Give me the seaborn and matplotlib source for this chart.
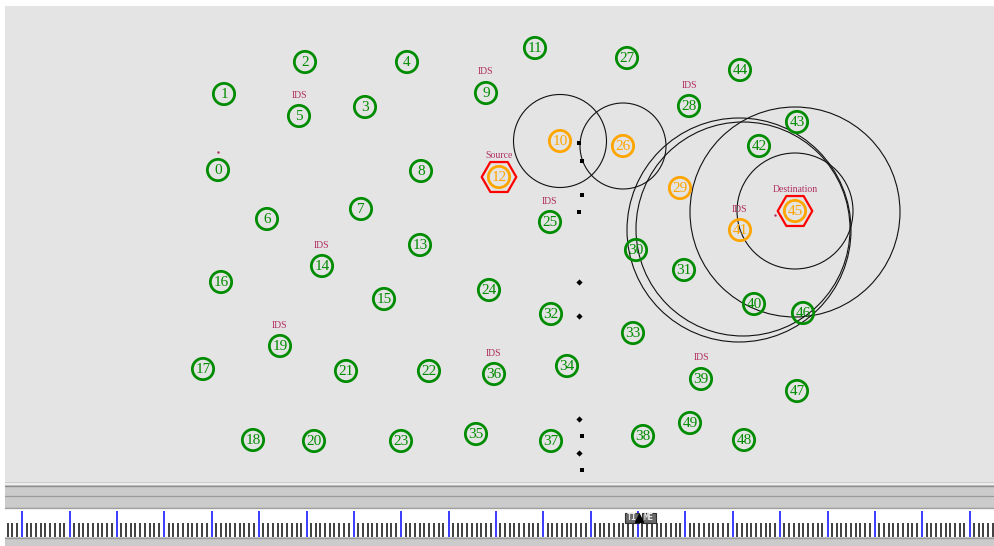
import numpy as np
import pandas as pd
import matplotlib.pyplot as plt
import seaborn as sns
from matplotlib.patches import Rectangle, Circle

# node positions (pixel coords, y down)
node_id = list(range(50))
node_x = [218, 224, 305, 365, 407, 299, 267, 361, 421, 486,
          560, 535, 499, 420, 322, 384, 221, 203, 253, 280,
          314, 346, 429, 401, 489, 550, 623, 627, 689, 680,
          636, 684, 551, 633, 567, 476, 494, 551, 643, 701,
          754, 740, 759, 797, 740, 795, 803, 797, 744, 690]
node_y = [170, 94, 62, 107, 62, 116, 219, 209, 171, 93,
          141, 48, 177, 245, 266, 299, 282, 369, 440, 346,
          441, 371, 371, 441, 290, 222, 146, 58, 106, 188,
          250, 270, 314, 333, 366, 434, 374, 441, 436, 379,
          304, 230, 146, 122, 70, 211, 313, 391, 440, 423]
active_nodes = [10, 26, 29, 41, 12, 45]
ids_nodes = [5, 9, 14, 19, 25, 28, 36, 39, 41]
source_node = 12
dest_node = 45

# transmission range circles
range_cx = [560, 623, 739, 743, 795, 795]
range_cy = [141, 146, 230, 229, 212, 211]
range_r = [46.5, 43, 112, 107, 105, 58]

# packets in flight
packet_x = [579, 582, 582, 579, 579, 579, 579, 582, 579, 582]
packet_y = [143, 161, 195, 212, 282, 316, 419, 436, 453, 470]
packet_kind = ["s", "s", "s", "s", "D", "D", "D", "s", "D", "s"]

green = "#008c00"
orange = "#ffa500"
maroon = "#b03060"

sns.set_style("white")
plt.rcParams["font.family"] = ["Liberation Serif", "DejaVu Serif"]

fig = plt.figure(figsize=(9.95, 5.46), dpi=100)
fig.patch.set_facecolor("white")
ax = fig.add_axes([0, 0, 1, 1])
ax.set_xlim(0, 995)
ax.set_ylim(546, 0)
ax.axis("off")

# canvas
ax.add_patch(Rectangle((5, 6), 990, 476, fc="#e4e4e4", ec="none", zorder=0))

# bottom control strip
ax.add_patch(Rectangle((5, 482), 990, 64, fc="#cbcbcb", ec="none", zorder=0))
ax.plot([5, 995], [483.5, 483.5], color="#f4f4f4", lw=1.2)
ax.plot([5, 995], [485.5, 485.5], color="#8c8c8c", lw=1.0)
ax.plot([5, 995], [496, 496], color="#9a9a9a", lw=0.9)
ax.plot([5, 995], [507.5, 507.5], color="#8c8c8c", lw=1.0)
ax.plot([5, 995], [509, 509], color="#f0f0f0", lw=1.0)
ax.add_patch(Rectangle((5, 510), 990, 27, fc="white", ec="none", zorder=1))
ax.plot([5, 995], [537.5, 537.5], color="#9a9a9a", lw=1.0, zorder=2)

major = np.arange(22.3, 995, 47.37)
minor = np.arange(7.6, 995, 4.737)
minor = minor[np.min(np.abs(minor[:, None] - major[None, :]), axis=1) > 1.5]
ax.vlines(minor, 522.5, 536.5, color="#303030", lw=1.3, zorder=2)
ax.vlines(major, 510.5, 536.5, color="#2b2bff", lw=1.3, zorder=3)

# time slider
for bx, lab in [(624.5, "TI"), (642, "ME")]:
    ax.add_patch(Rectangle((bx, 512.5), 14, 10.5, fc="#6a6a6a", ec="#303030", lw=0.8, zorder=4))
    ax.text(bx + 7, 518, lab, color="#e8e8e8", fontsize=6, fontweight="bold",
            family="DejaVu Sans Mono", ha="center", va="center", zorder=5)
ax.plot([638.5], [518], marker="^", color="black", ms=6, zorder=6)

# range circles
for cx, cy, r in zip(range_cx, range_cy, range_r):
    ax.add_patch(Circle((cx, cy), r, fill=False, ec="#111111", lw=0.8, zorder=2))

nodes = pd.DataFrame({"id": node_id, "x": node_x, "y": node_y})
nodes["state"] = np.where(nodes["id"].isin(active_nodes), "active", "idle")

# source / destination hexagons
ends = nodes[nodes["id"].isin([source_node, dest_node])]
sns.scatterplot(data=ends, x="x", y="y", marker="H", s=620, facecolors="none",
                edgecolor="red", linewidth=1.6, ax=ax, legend=False, zorder=3)

# nodes as hollow rings
sns.scatterplot(data=nodes, x="x", y="y", hue="state",
                palette={"active": orange, "idle": green},
                marker="o", s=235, linewidth=2.0, ax=ax, legend=False, zorder=4)
rings = ax.collections[-1]
rings.set_edgecolors(rings.get_facecolors())
rings.set_facecolors("none")

for _, row in nodes.iterrows():
    col = orange if row["state"] == "active" else green
    ax.text(row["x"], row["y"] + 0.5, str(row["id"]), color=col, fontsize=11,
            ha="center", va="center", zorder=5)

# labels above nodes
for n in ids_nodes:
    ax.text(node_x[n], node_y[n] - 21, "IDS", color=maroon, fontsize=7,
            ha="center", va="center", zorder=5)
ax.text(node_x[source_node], node_y[source_node] - 21, "Source", color=maroon,
        fontsize=7, ha="center", va="center", zorder=5)
ax.text(node_x[dest_node], node_y[dest_node] - 21, "Destination", color=maroon,
        fontsize=7, ha="center", va="center", zorder=5)

# packets
for kind in ["s", "D"]:
    px = [x for x, k in zip(packet_x, packet_kind) if k == kind]
    py = [y for y, k in zip(packet_y, packet_kind) if k == kind]
    sns.scatterplot(x=px, y=py, marker=kind, s=12 if kind == "s" else 10,
                    color="black", linewidth=0, ax=ax, legend=False, zorder=6)

# stray marks
ax.plot([218], [152], marker=".", ms=1.5, color=maroon)
ax.plot([775], [215], marker=".", ms=1.5, color=maroon)

fig.savefig("out.png", dpi=100)
